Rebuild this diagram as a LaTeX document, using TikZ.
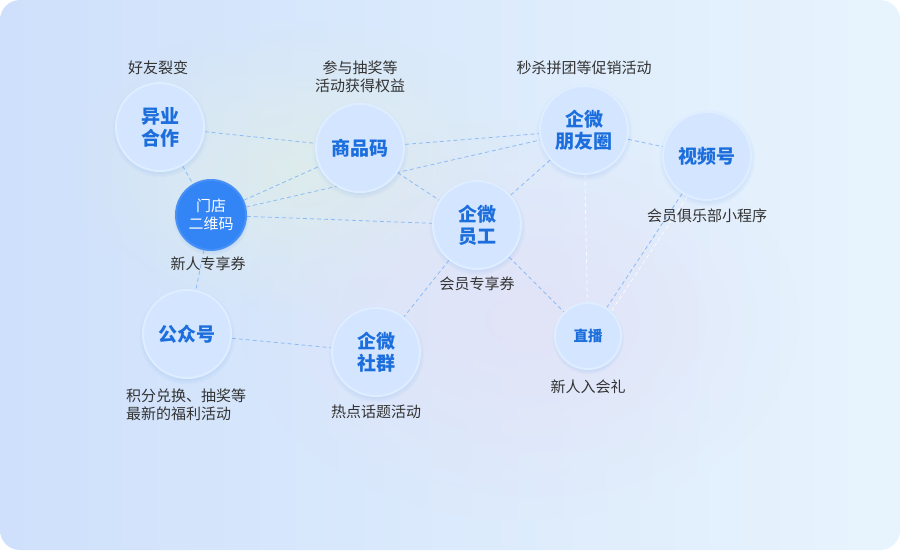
\documentclass[tikz,border=0pt]{standalone}
\usepackage{fontspec}
\setmainfont{Noto Sans CJK SC}
\usetikzlibrary{fadings,shadows}

\definecolor{bgleft}{HTML}{CEE0FB}
\definecolor{bgright}{HTML}{E8F4FD}
\definecolor{tintgreen}{HTML}{DFEDE8}
\definecolor{tintlav}{HTML}{E3E1F6}
\definecolor{hubfill}{HTML}{D4E6FF}
\definecolor{hubrim}{HTML}{DEEDFF}
\definecolor{hubtext}{HTML}{1C6EDC}
\definecolor{storefill}{HTML}{3384F5}
\definecolor{linkblue}{HTML}{8DBBF5}
\definecolor{notetext}{HTML}{333333}

\tikzfading[name=softspot, inner color=transparent!20, outer color=transparent!100]
\pgfdeclarelayer{back}
\pgfdeclarelayer{links}
\pgfsetlayers{back,links,main}

\begin{document}
\begin{tikzpicture}[x=1pt, y=-1pt,
  hub/.style={circle, minimum size=88pt, inner sep=0pt, fill=hubfill, draw=hubrim, line width=2pt,
    circular drop shadow={shadow xshift=0pt, shadow yshift=-2pt, opacity=.12, fill=hubtext},
    text=hubtext, align=center, font=\fontsize{19}{22}\selectfont\bfseries},
  small/.style={hub, minimum size=66pt, font=\fontsize{14.5}{18}\selectfont\bfseries},
  store/.style={hub, minimum size=70pt, fill=storefill, draw=storefill!90!white, text=white,
    font=\fontsize{15}{18}\selectfont},
  note/.style={text=notetext, align=center, inner sep=0pt, font=\fontsize{15}{18.5}\selectfont},
  link/.style={draw=linkblue, dashed, dash pattern=on 4pt off 3pt, line width=.8pt},
  ghost/.style={link, draw=white, draw opacity=.8}]
\useasboundingbox (0,0) rectangle (900,550);

\begin{pgfonlayer}{back}
\fill[white] (0,0) rectangle (900,550);
\shade[rounded corners=20pt, left color=bgleft, right color=bgright] (0,0) rectangle (900,550);
\fill[tintgreen, path fading=softspot] (300,170) ellipse (230 and 150);
\fill[tintlav, path fading=softspot] (520,320) ellipse (280 and 200);
\end{pgfonlayer}

\node[hub] (partner) at (160,127) {异业\\合作};
\node[hub] (goods) at (360,148) {商品码};
\node[store] (store) at (211,215) {门店\\二维码};
\node[hub] (staff) at (477,225) {企微\\员工};
\node[hub] (moments) at (584,130) {企微\\朋友圈};
\node[hub] (channel) at (707,156) {视频号};
\node[hub] (official) at (187,334) {公众号};
\node[hub] (group) at (376,352) {企微\\社群};
\node[small] (live) at (588,336) {直播};

\node[note] (partnernote) at (158,68) {好友裂变};
\node[note] (goodsnote) at (360,77) {参与抽奖等\\活动获得权益};
\node[note] (momentsnote) at (584,68) {秒杀拼团等促销活动};
\node[note] (storenote) at (208,264) {新人专享券};
\node[note] (channelnote) at (707,216) {会员俱乐部小程序};
\node[note] (staffnote) at (477,284) {会员专享券};
\node[note, anchor=west, align=left] (officialnote) at (126,405) {积分兑换、抽奖等\\最新的福利活动};
\node[note] (groupnote) at (376,412) {热点话题活动};
\node[note] (livenote) at (588,387) {新人入会礼};

\begin{pgfonlayer}{links}
\draw[link] (partner) -- (goods);
\draw[link] (partner) -- (store);
\draw[link] (store) -- (goods);
\draw[link] (store) -- (moments);
\draw[link] (store) -- (staff);
\draw[link] (store) -- (official);
\draw[link] (goods) -- (moments);
\draw[link] (goods) -- (staff);
\draw[link] (staff) -- (moments);
\draw[link] (moments) -- (channel);
\draw[link] (staff) -- (group);
\draw[link] (staff) -- (live);
\draw[link] (official) -- (group);
\draw[link] (channel) -- (live);
\draw[ghost] (moments) -- (live);
\draw[ghost, transform canvas={shift={(5,3)}}] (channel) -- (live);
\end{pgfonlayer}
\end{tikzpicture}
\end{document}
